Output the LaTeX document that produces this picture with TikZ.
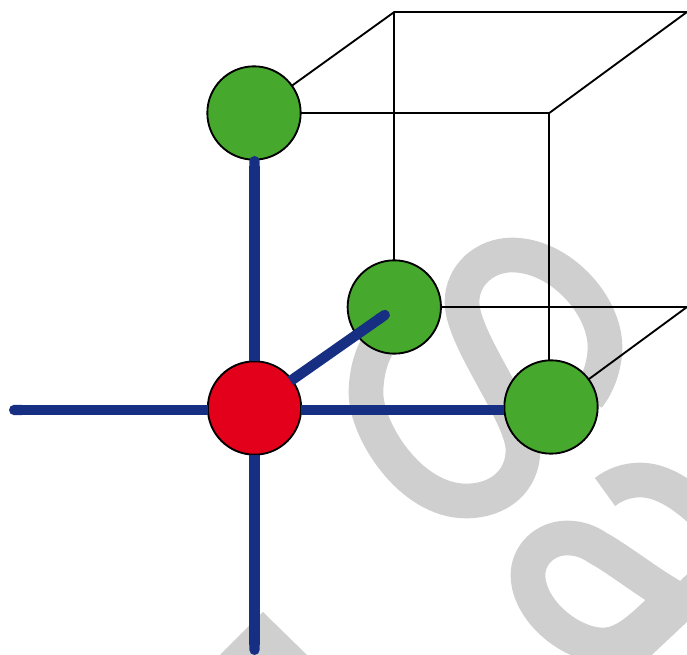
\documentclass[tikz,border=0pt]{standalone}
\usepackage{xcolor}
\usetikzlibrary{arrows.meta}
\definecolor{verde}{RGB}{71,168,46}
\definecolor{rojo}{RGB}{227,0,27}
\definecolor{azul}{RGB}{22,47,130}
\definecolor{marca}{RGB}{207,207,207}
\tikzset{
  sitio/.style={circle,draw=black,line width=1.4pt,minimum size=70pt,inner sep=0pt,outer sep=0pt},
  arista/.style={black,line width=1.4pt},
  enlace/.style={azul,line width=7.8pt},
  marcaagua/.style={marca,line width=26pt}
}
\begin{document}
\begin{tikzpicture}[x=0.75pt,y=-0.75pt]
\useasboundingbox (0,0) rectangle (687,655);
% marca de agua
\begin{scope}
\clip (0,0) rectangle (687,655);
\draw[marcaagua] (385,335) .. controls (372,350) and (366,372) .. (366,393) .. controls (366,430) and (410,501) .. (466,501) .. controls (500,501) and (523,480) .. (523,450) .. controls (523,415) and (462,340) .. (462,302) .. controls (462,275) and (485,255) .. (512,255) .. controls (560,255) and (605,305) .. (605,347) .. controls (605,365) and (598,385) .. (588,397);
\draw[marcaagua] (605,492) .. controls (615,484) and (628,480) .. (640,480) .. controls (660,480) and (680,492) .. (700,510);
\draw[marcaagua] (680,601) .. controls (645,581) and (620,560) .. (598,548) .. controls (588,541) and (578,538) .. (567,538) .. controls (545,538) and (528,555) .. (528,575) .. controls (528,610) and (570,645) .. (603,645) .. controls (622,645) and (638,632) .. (665,605);
\draw[marcaagua] (620,661) -- (700,586);
\fill[marca] (263,612) -- (220,655) -- (307,655) -- cycle;
\end{scope}
% sitios
\node[sitio,fill=verde] (arriba) at (254,113) {};
\node[sitio,fill=verde] (medio) at (394.3,307) {};
\node[sitio,fill=verde] (derecha) at (551,407) {};
\node[sitio,fill=rojo] (centro) at (254.5,408) {};
\coordinate (c1) at (394.3,12);
\coordinate (c2) at (687,12);
\coordinate (c3) at (549.3,113);
\coordinate (c4) at (687,307);
\coordinate (izq) at (9,410);
\coordinate (tope) at (254.5,156);
\coordinate (abajo) at (254.5,655);
\coordinate (punta) at (389,312);
% cubo
\draw[arista] (arriba) -- (c1) -- (c2) -- (c3) -- (arriba);
\draw[arista] (c1) -- (medio);
\draw[arista] (c3) -- (c3 |- derecha.north);
\draw[arista] (medio) -- (c4) -- (derecha);
% enlaces
\draw[enlace,{Round Cap[]}-] (izq) -- (izq -| centro.west);
\draw[enlace] (izq -| centro.east) -- (izq -| derecha.west);
\draw[enlace,{Round Cap[]}-] (tope) -- (centro.north);
\draw[enlace,-{Round Cap[]}] (centro.south) -- (abajo);
\draw[enlace,-{Round Cap[]}] (centro) ++(36,-27) -- (punta);
\end{tikzpicture}
\end{document}
